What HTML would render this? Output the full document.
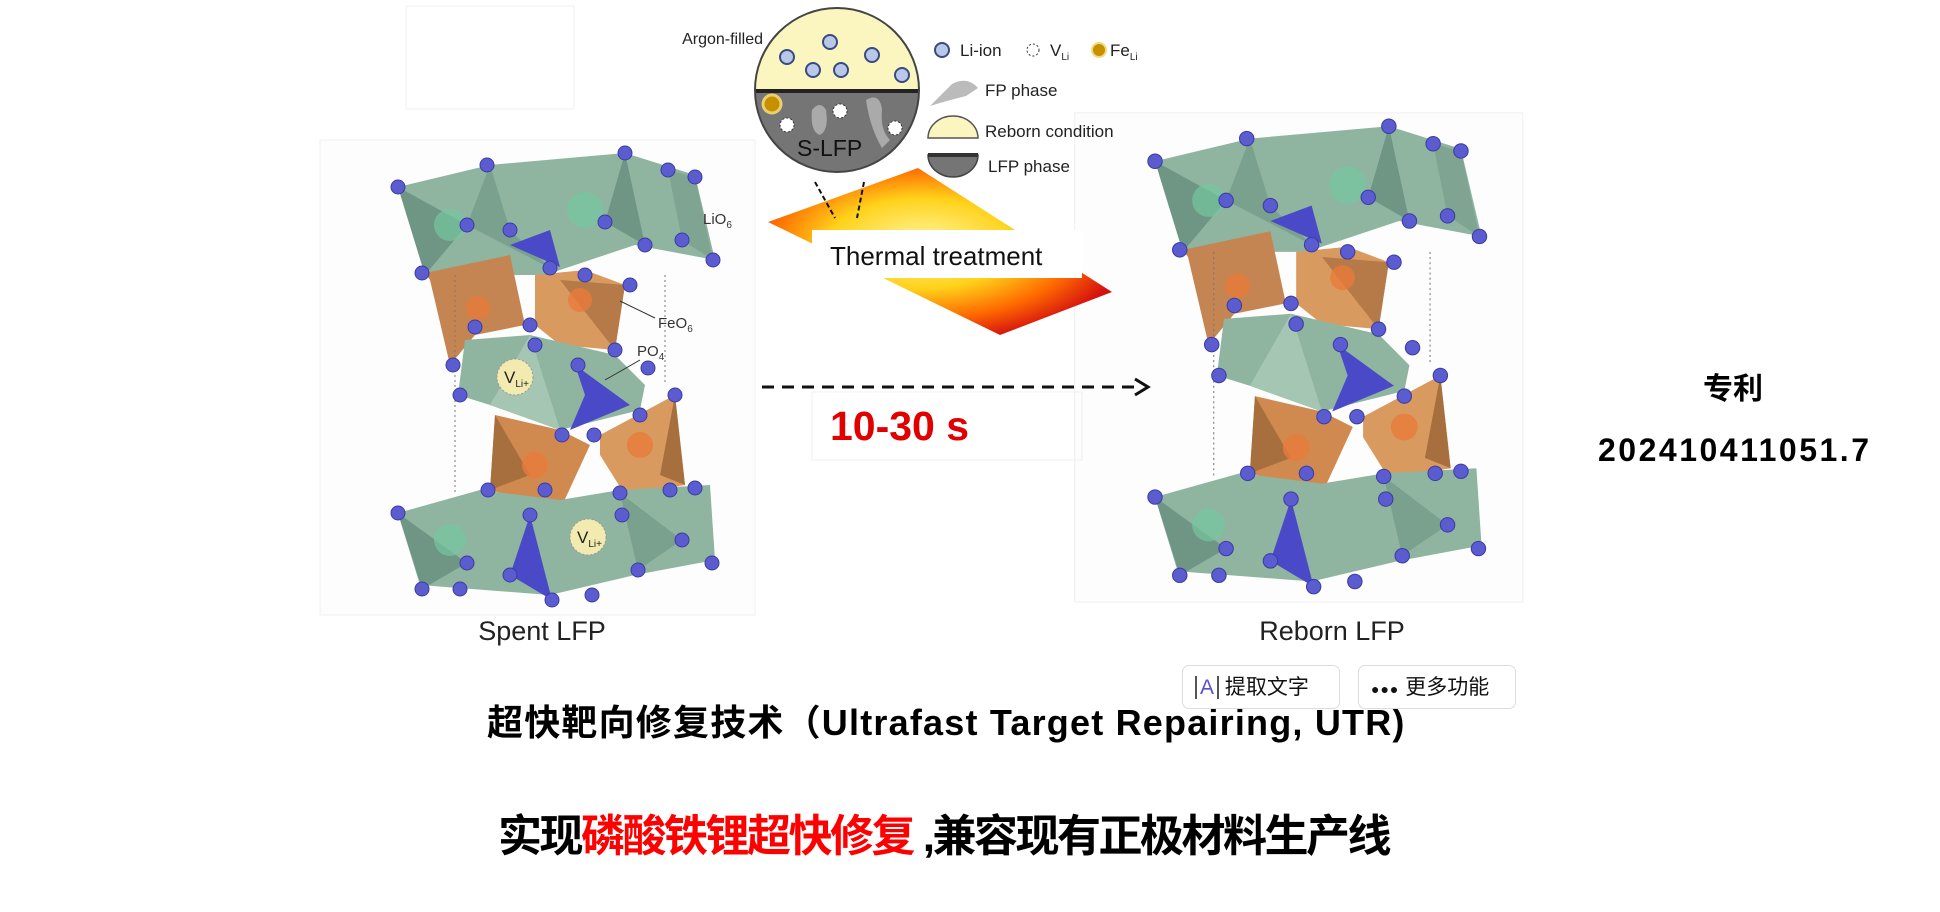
<!DOCTYPE html>
<html><head><meta charset="utf-8"><style>
html,body{margin:0;padding:0;background:#fff;}
body{width:1940px;height:912px;position:relative;overflow:hidden;font-family:"Liberation Sans","Noto Sans CJK SC",sans-serif;}
.abs{position:absolute;white-space:nowrap;}
.btn{position:absolute;top:665px;height:44px;border:1.5px solid #ddd;border-radius:7px;background:#fff;font-size:21px;line-height:44px;color:#111;box-sizing:border-box;}
</style></head><body>
<svg width="1940" height="912" style="position:absolute;left:0;top:0">
<defs>
<radialGradient id="heat" cx="0.45" cy="0.45" r="0.6">
<stop offset="0" stop-color="#fff6a0"/><stop offset="0.45" stop-color="#ffd21a"/><stop offset="0.75" stop-color="#ff6a00"/><stop offset="1" stop-color="#d41010"/></radialGradient>
<g id="cry">
<rect x="-10" y="-5" width="435" height="475" fill="#fdfdfd" stroke="#f0f0f0"/>
<polygon points="68,42 160,20 295,8 365,30 385,115 305,100 215,130 95,130" fill="#8fb5a0"/>
<polygon points="68,42 137,80 95,130" fill="#6f9584"/>
<polygon points="160,20 180,85 220,123 137,80" fill="#7aa08e"/>
<polygon points="295,8 315,100 275,77" fill="#6f9584"/>
<polygon points="338,25 352,95 383,115 365,32" fill="#7fa592"/>
<circle cx="120" cy="80" r="16" fill="#74c7a0" opacity=".7"/>
<circle cx="255" cy="65" r="18" fill="#74c7a0" opacity=".7"/>
<polygon points="180,100 220,85 230,122" fill="#4a4ac8"/>
<polygon points="95,128 180,110 195,180 145,190 120,220 100,135" fill="#c48552"/>
<polygon points="205,130 255,125 295,140 285,205 230,200 205,180" fill="#d99a60"/>
<polygon points="230,135 295,140 285,205" fill="#b57a48"/>
<circle cx="148" cy="163" r="12" fill="#e77a3a" opacity=".8"/>
<circle cx="250" cy="155" r="12" fill="#e77a3a" opacity=".8"/>
<polygon points="135,195 200,190 285,210 315,240 310,265 230,285 160,260 128,250" fill="#8fb5a0"/>
<polygon points="200,190 230,285 160,260" fill="#a4c6b2"/>
<polygon points="245,220 300,260 240,285 255,250" fill="#4a4ac8"/>
<polygon points="165,270 230,285 260,300 230,365 160,345" fill="#d08a50"/>
<polygon points="165,270 200,330 160,345" fill="#a86f3e"/>
<polygon points="270,290 345,250 355,340 295,350 270,310" fill="#d99a60"/>
<polygon points="345,250 355,340 330,330" fill="#a86f3e"/>
<circle cx="205" cy="320" r="13" fill="#e77a3a" opacity=".8"/>
<circle cx="310" cy="300" r="13" fill="#e77a3a" opacity=".8"/>
<polygon points="68,368 150,345 230,355 290,345 380,340 385,415 305,430 220,450 90,440 70,375" fill="#8fb5a0"/>
<polygon points="68,368 137,418 92,444" fill="#6f9584"/>
<polygon points="200,370 222,455 180,430" fill="#4a4ac8"/>
<polygon points="290,348 308,425 352,395" fill="#7aa08e"/>
<circle cx="120" cy="395" r="16" fill="#74c7a0" opacity=".7"/>
<line x1="125" y1="130" x2="125" y2="350" stroke="#777" stroke-dasharray="2,3"/>
<line x1="335" y1="130" x2="335" y2="240" stroke="#777" stroke-dasharray="2,3"/>
<g fill="#5a5cd0" stroke="#3b3da0" stroke-width="1">
<circle cx="68" cy="42" r="7"/><circle cx="157" cy="20" r="7"/><circle cx="295" cy="8" r="7"/><circle cx="338" cy="25" r="7"/><circle cx="365" cy="32" r="7"/><circle cx="137" cy="80" r="7"/><circle cx="180" cy="85" r="7"/><circle cx="275" cy="77" r="7"/><circle cx="315" cy="100" r="7"/><circle cx="352" cy="95" r="7"/><circle cx="383" cy="115" r="7"/><circle cx="92" cy="128" r="7"/><circle cx="220" cy="123" r="7"/><circle cx="255" cy="130" r="7"/><circle cx="300" cy="140" r="7"/><circle cx="145" cy="182" r="7"/><circle cx="200" cy="180" r="7"/><circle cx="205" cy="200" r="7"/><circle cx="285" cy="205" r="7"/><circle cx="123" cy="220" r="7"/><circle cx="248" cy="220" r="7"/><circle cx="318" cy="223" r="7"/><circle cx="130" cy="250" r="7"/><circle cx="310" cy="270" r="7"/><circle cx="345" cy="250" r="7"/><circle cx="232" cy="290" r="7"/><circle cx="264" cy="290" r="7"/><circle cx="158" cy="345" r="7"/><circle cx="215" cy="345" r="7"/><circle cx="290" cy="348" r="7"/><circle cx="340" cy="345" r="7"/><circle cx="365" cy="343" r="7"/><circle cx="68" cy="368" r="7"/><circle cx="200" cy="370" r="7"/><circle cx="292" cy="370" r="7"/><circle cx="352" cy="395" r="7"/><circle cx="382" cy="418" r="7"/><circle cx="137" cy="418" r="7"/><circle cx="180" cy="430" r="7"/><circle cx="308" cy="425" r="7"/><circle cx="92" cy="444" r="7"/><circle cx="130" cy="444" r="7"/><circle cx="222" cy="455" r="7"/><circle cx="262" cy="450" r="7"/>
</g>
</g>
</defs>
<rect x="406" y="6" width="168" height="103" fill="#fff" stroke="#f2f2f2"/>
<use href="#cry" transform="translate(330,145)"/>
<use href="#cry" transform="translate(1085,118) scale(1.03)"/>
<circle cx="515" cy="377" r="18" fill="#f3eab0" stroke="#999" stroke-dasharray="2,2"/>
<text x="504" y="383" font-size="17" fill="#222">V<tspan font-size="10" dy="4">Li+</tspan></text>
<circle cx="588" cy="537" r="18" fill="#f3eab0" stroke="#999" stroke-dasharray="2,2"/>
<text x="577" y="543" font-size="17" fill="#222">V<tspan font-size="10" dy="4">Li+</tspan></text>
<text x="703" y="224" font-size="15" fill="#333">LiO<tspan font-size="10" dy="4">6</tspan></text>
<text x="658" y="328" font-size="15" fill="#333">FeO<tspan font-size="10" dy="4">6</tspan></text>
<text x="637" y="356" font-size="15" fill="#333">PO<tspan font-size="10" dy="4">4</tspan></text>
<line x1="655" y1="318" x2="620" y2="301" stroke="#333"/>
<line x1="640" y1="360" x2="605" y2="380" stroke="#333"/>
<polygon points="768,222 918,168 1112,292 1000,335" fill="url(#heat)"/>
<rect x="812" y="230" width="270" height="48" fill="#fff"/>
<text x="830" y="265" font-size="26" fill="#111">Thermal treatment</text>
<line x1="815" y1="182" x2="835" y2="218" stroke="#111" stroke-width="2" stroke-dasharray="5,3"/>
<line x1="864" y1="182" x2="857" y2="218" stroke="#111" stroke-width="2" stroke-dasharray="5,3"/>
<clipPath id="cc"><circle cx="837" cy="90" r="82"/></clipPath>
<g clip-path="url(#cc)">
<rect x="750" y="0" width="180" height="91" fill="#fbf6c0"/>
<rect x="750" y="91" width="180" height="90" fill="#757575"/>
<rect x="750" y="89" width="180" height="4" fill="#222"/>
<path d="M812,110 q8,-10 14,0 q3,20 -6,25 q-10,-3 -8,-25z" fill="#aaa"/>
<path d="M866,100 q14,-8 16,10 q-2,20 8,30 l-8,8 q-12,-20 -16,-48z" fill="#aaa"/>
</g>
<circle cx="837" cy="90" r="82" fill="none" stroke="#444" stroke-width="2"/>
<g fill="#b8c8e8" stroke="#3a4a80" stroke-width="2">
<circle cx="830" cy="42" r="7"/><circle cx="787" cy="57" r="7"/><circle cx="813" cy="70" r="7"/><circle cx="841" cy="70" r="7"/><circle cx="872" cy="55" r="7"/><circle cx="902" cy="75" r="7"/></g>
<circle cx="772" cy="104" r="9" fill="#c89000" stroke="#e8d070" stroke-width="3"/>
<g fill="#fff" stroke="#333" stroke-dasharray="2,2"><circle cx="787" cy="125" r="7"/><circle cx="840" cy="111" r="7"/><circle cx="895" cy="128" r="7"/></g>
<text x="797" y="156" font-size="23" fill="#111">S-LFP</text>
<text x="763" y="44" font-size="16" fill="#222" text-anchor="end">Argon-filled</text>
<circle cx="942" cy="50" r="7" fill="#b8c8e8" stroke="#3a4a80" stroke-width="2"/>
<text x="960" y="56" font-size="17" fill="#222">Li-ion</text>
<circle cx="1033" cy="50" r="6" fill="#fff" stroke="#333" stroke-dasharray="2,2"/>
<text x="1050" y="56" font-size="17" fill="#222">V<tspan font-size="10" dy="4">Li</tspan></text>
<circle cx="1099" cy="50" r="7" fill="#c89000" stroke="#eedd80" stroke-width="2"/>
<text x="1110" y="56" font-size="17" fill="#222">Fe<tspan font-size="10" dy="4">Li</tspan></text>
<path d="M930,106 q10,-10 22,-22 q15,-8 26,4 l-12,8 q-20,5 -36,10z" fill="#bbb"/>
<text x="985" y="96" font-size="17" fill="#222">FP phase</text>
<path d="M928,138 a25,22 0 0 1 50,0 z" fill="#fbf6c0" stroke="#555" stroke-width="1.5"/>
<text x="985" y="137" font-size="17" fill="#222">Reborn condition</text>
<path d="M928,155 a25,22 0 0 0 50,0 z" fill="#757575" stroke="#444" stroke-width="1.5"/>
<rect x="928" y="153" width="50" height="4" fill="#333"/>
<text x="988" y="172" font-size="17" fill="#222">LFP phase</text>
<line x1="762" y1="387" x2="1140" y2="387" stroke="#111" stroke-width="3" stroke-dasharray="12,8"/>
<polyline points="1135,379 1148,387 1135,395" fill="none" stroke="#111" stroke-width="3"/>
<rect x="812" y="392" width="270" height="68" fill="none" stroke="#f0f0f0"/>
<text x="830" y="440" font-size="41" font-weight="bold" fill="#e00000">10-30 s</text>
<text x="542" y="640" font-size="27" fill="#222" text-anchor="middle">Spent LFP</text>
<text x="1332" y="640" font-size="27" fill="#222" text-anchor="middle">Reborn LFP</text>
</svg>
<div class="abs" style="left:1703px;top:364px;font-size:30px;font-weight:bold;">专利</div>
<div class="abs" style="left:1598px;top:432px;font-size:32px;font-weight:bold;letter-spacing:2.5px;">202410411051.7</div>
<div class="abs" style="left:487px;top:694px;font-size:36px;font-weight:bold;letter-spacing:1.2px;">超快靶向修复技术（Ultrafast Target Repairing, UTR)</div>
<div class="abs" style="left:498px;top:800px;font-size:44px;font-weight:bold;letter-spacing:-2.5px;">实现<span style="color:#ff0000">磷酸铁锂超快修复</span> ,兼容现有正极材料生产线</div>
<div class="btn" style="left:1182px;width:158px;"><span style="color:#5a4fd0;margin-left:12px;border-left:2px solid #555;border-right:2px solid #555;padding:0 3px;">A</span> 提取文字</div>
<div class="btn" style="left:1358px;width:158px;"><span style="margin-left:12px;font-size:14px;letter-spacing:1px;">●●●</span> 更多功能</div>
</body></html>
